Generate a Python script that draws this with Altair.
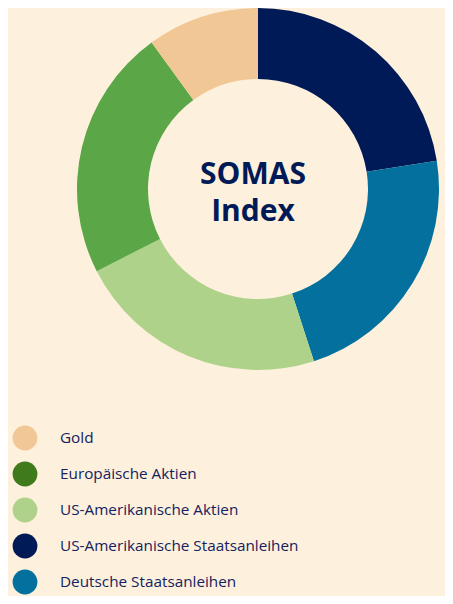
import altair as alt
import pandas as pd

# Data
slice_names = ["US-Amerikanische Staatsanleihen", "Deutsche Staatsanleihen",
               "US-Amerikanische Aktien", "Europäische Aktien", "Gold"]
slice_shares = [22.5, 22.5, 22.5, 22.5, 10.0]
slice_colors = ["#001a57", "#04709e", "#aed28a", "#5ba646", "#f2c796"]

legend_names = ["Gold", "Europäische Aktien", "US-Amerikanische Aktien",
                "US-Amerikanische Staatsanleihen", "Deutsche Staatsanleihen"]
legend_colors = ["#f2c796", "#3f7a1c", "#aed28a", "#001a57", "#04709e"]

center_lines = ["SOMAS", "Index"]

BG = "#fdf0dc"
NAVY = "#14225e"

W, H = 437, 588
cx, cy = 250, 181

pie_df = pd.DataFrame({"name": slice_names, "share": slice_shares,
                       "color": slice_colors, "order": list(range(len(slice_names)))})
leg_df = pd.DataFrame({"name": legend_names, "color": legend_colors})
txt_df = pd.DataFrame({"line": center_lines, "row": list(range(len(center_lines)))})

donut = alt.Chart(pie_df).mark_arc(outerRadius=181, innerRadius=110, stroke=None).encode(
    theta=alt.Theta("share:Q", stack=True),
    order=alt.Order("order:Q"),
    fill=alt.Fill("color:N", scale=None),
    x=alt.value(cx), y=alt.value(cy),
)

center = alt.Chart(txt_df).mark_text(
    font="Open Sans", fontWeight="bold", fontSize=30, color="#001a57",
    align="center", baseline="alphabetic"
).encode(
    text="line:N",
    x=alt.value(245),
    y=alt.Y("row:O", scale=alt.Scale(domain=[0, 1], range=[176, 213], padding=0), axis=None),
)

leg_y = alt.Y("name:N", sort=legend_names,
              scale=alt.Scale(domain=legend_names, range=[430, 574], padding=0), axis=None)

leg_pts = alt.Chart(leg_df).mark_circle(size=615, opacity=1).encode(
    x=alt.value(17), y=leg_y, fill=alt.Fill("color:N", scale=None)
)
leg_txt = alt.Chart(leg_df).mark_text(
    font="Open Sans", fontSize=15.3, color=NAVY, align="left", baseline="middle"
).encode(
    x=alt.value(52), y=leg_y, text="name:N"
)

chart = alt.layer(donut, center, leg_pts, leg_txt).properties(
    width=W, height=H, padding=0, background=BG,
    autosize=alt.AutoSizeParams(type="none")
).configure_view(stroke=None).resolve_scale(y="independent")

chart.save("out.html", embed_options={"renderer": "svg", "actions": False})
